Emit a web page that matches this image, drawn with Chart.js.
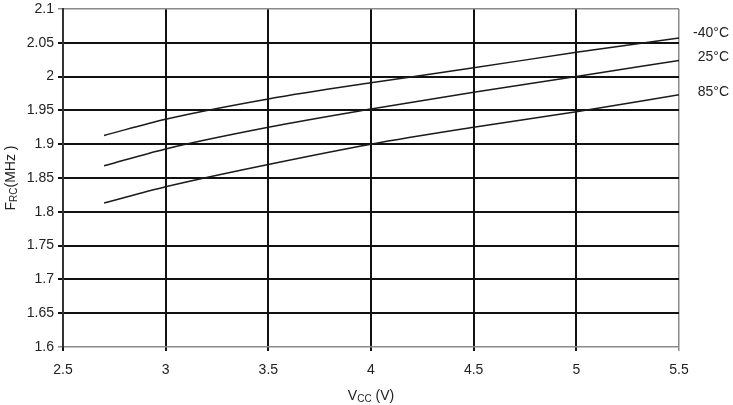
<!DOCTYPE html>
<html>
<head>
<meta charset="utf-8">
<script src="https://cdn.jsdelivr.net/npm/chart.js@4"></script>
<style>
  html, body { margin: 0; padding: 0; background: #fff; }
  #wrap { width: 733px; height: 405px; }
</style>
</head>
<body>
<div id="wrap"><canvas id="chartFrc" width="733" height="405"></canvas></div>
<script>
// Vcc (V) sampling points
const vcc = [2.7, 3.0, 3.5, 4.0, 4.5, 5.0, 5.5];
// Frc (MHz) per temperature
const frcMinus40 = [1.913, 1.937, 1.967, 1.991, 2.013, 2.036, 2.057];
const frc25 = [1.868, 1.893, 1.925, 1.952, 1.977, 2.000, 2.024];
const frc85 = [1.813, 1.837, 1.870, 1.900, 1.925, 1.948, 1.973];
const seriesNames = ['-40°C', '25°C', '85°C'];
const labelValues = [2.065, 2.029, 1.977];

const font = '"Liberation Sans", Arial, sans-serif';
const txt = '#222';

function toPoints(ys) {
  return vcc.map((x, i) => ({ x: x, y: ys[i] }));
}

// axis titles with subscripts + series labels on the right
const annotations = {
  id: 'annotations',
  afterDraw(chart) {
    const ctx = chart.ctx;
    const area = chart.chartArea;
    const yScale = chart.scales.y;
    ctx.save();
    ctx.fillStyle = txt;
    ctx.textBaseline = 'middle';

    // series labels
    ctx.font = '14px ' + font;
    ctx.textAlign = 'right';
    seriesNames.forEach((name, i) => {
      ctx.fillText(name, area.right + 50, yScale.getPixelForValue(labelValues[i]));
    });

    // x title: Vcc (V)
    const cx = (area.left + area.right) / 2;
    drawParts(ctx, [['V', 14, 0], ['CC', 10, 3], [' (V)', 14, 0]], cx, 396);

    // y title: Frc (MHz)
    ctx.translate(11, (area.top + area.bottom) / 2);
    ctx.rotate(-Math.PI / 2);
    drawParts(ctx, [['F', 14, 0], ['RC', 10, 3], ['(MHz )', 14, 0]], 0, 0);
    ctx.restore();
  }
};

function drawParts(ctx, parts, cx, cy) {
  let total = 0;
  parts.forEach(p => { ctx.font = p[1] + 'px ' + font; total += ctx.measureText(p[0]).width; });
  let x = cx - total / 2;
  ctx.textAlign = 'left';
  parts.forEach(p => {
    ctx.font = p[1] + 'px ' + font;
    ctx.fillText(p[0], x, cy + p[2]);
    x += ctx.measureText(p[0]).width;
  });
}

const isEdgeY = v => Math.abs(v - 1.6) < 1e-6 || Math.abs(v - 2.1) < 1e-6;

const ctxFrc = document.getElementById('chartFrc').getContext('2d');
new Chart(ctxFrc, {
  type: 'line',
  data: {
    datasets: [
      { label: seriesNames[0], data: toPoints(frcMinus40) },
      { label: seriesNames[1], data: toPoints(frc25) },
      { label: seriesNames[2], data: toPoints(frc85) }
    ].map(d => Object.assign(d, {
      borderColor: '#1a1a1a',
      borderWidth: 1.5,
      pointRadius: 0,
      fill: false,
      cubicInterpolationMode: 'monotone'
    }))
  },
  options: {
    responsive: false,
    animation: false,
    layout: { padding: { top: 9, right: 54, left: 0, bottom: 0 } },
    plugins: {
      legend: { display: false },
      tooltip: { enabled: false }
    },
    scales: {
      x: {
        type: 'linear',
        min: 2.5,
        max: 5.5,
        afterFit(scale) { scale.height = 58; },
        ticks: {
          stepSize: 0.5,
          color: txt,
          font: { family: font, size: 14 },
          padding: 11,
          callback: v => String(+v.toFixed(2))
        },
        grid: {
          color: c => (c.tick && c.tick.value === 5.5) ? '#8a8a8a' : '#111',
          lineWidth: c => (c.tick && c.tick.value === 5.5) ? 1.5 : 2,
          tickLength: 4
        },
        border: { display: false }
      },
      y: {
        min: 1.6,
        max: 2.1,
        afterFit(scale) {
          scale.width = 63;
          scale.paddingTop = 0;
          scale.paddingBottom = 0;
        },
        ticks: {
          stepSize: 0.05,
          color: txt,
          font: { family: font, size: 14 },
          padding: 4,
          callback: v => String(+v.toFixed(2))
        },
        grid: {
          color: c => (c.tick && isEdgeY(c.tick.value)) ? '#8a8a8a' : '#111',
          lineWidth: c => (c.tick && isEdgeY(c.tick.value)) ? 1.5 : 2,
          tickLength: 5
        },
        border: { display: true, color: '#333', width: 2 }
      }
    }
  },
  plugins: [annotations]
});
</script>
</body>
</html>
